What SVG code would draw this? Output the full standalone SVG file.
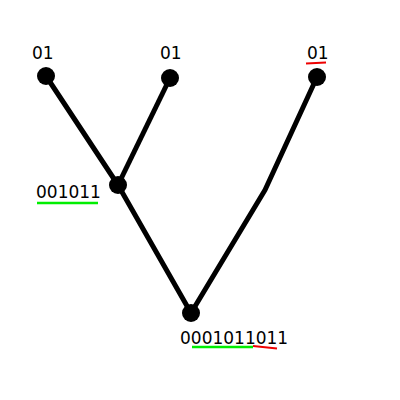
<svg xmlns="http://www.w3.org/2000/svg" width="400" height="400" viewBox="0 0 400 400">
<style>
.edge{stroke:#000;stroke-width:5;fill:none;stroke-linejoin:round}
.node{fill:#000}
.lbl{font-family:"DejaVu Sans",sans-serif;font-size:17px;fill:#000}
.g{stroke:#00ee00;stroke-width:2.5}
.r{stroke:#ee0000;stroke-width:2}
</style>
<rect width="400" height="400" fill="#fff"/>
<g id="connectors">
<polyline class="edge" points="46,76 118,185 191,313"/>
<polyline class="edge" points="170,78 118,185"/>
<polyline class="edge" points="317,77 265,190 191,313"/>
</g>
<g id="n1"><circle class="node" cx="46" cy="76" r="9"/><text class="lbl" x="32" y="59">01</text></g>
<g id="n2"><circle class="node" cx="170" cy="78" r="9"/><text class="lbl" x="160" y="59">01</text></g>
<g id="n3"><circle class="node" cx="317" cy="77" r="9"/><text class="lbl" x="307" y="59">01</text><line class="r" x1="306" y1="63.5" x2="326" y2="62.5"/></g>
<g id="n4"><circle class="node" cx="118" cy="185" r="9"/><text class="lbl" x="36" y="198">001011</text><line class="g" x1="37" y1="203" x2="98" y2="203"/></g>
<g id="n5"><circle class="node" cx="191" cy="313" r="9"/><text class="lbl" x="180" y="344">0001011011</text><line class="g" x1="192" y1="347" x2="253" y2="347"/><line class="r" x1="253" y1="346" x2="277" y2="348.5"/></g>
</svg>
